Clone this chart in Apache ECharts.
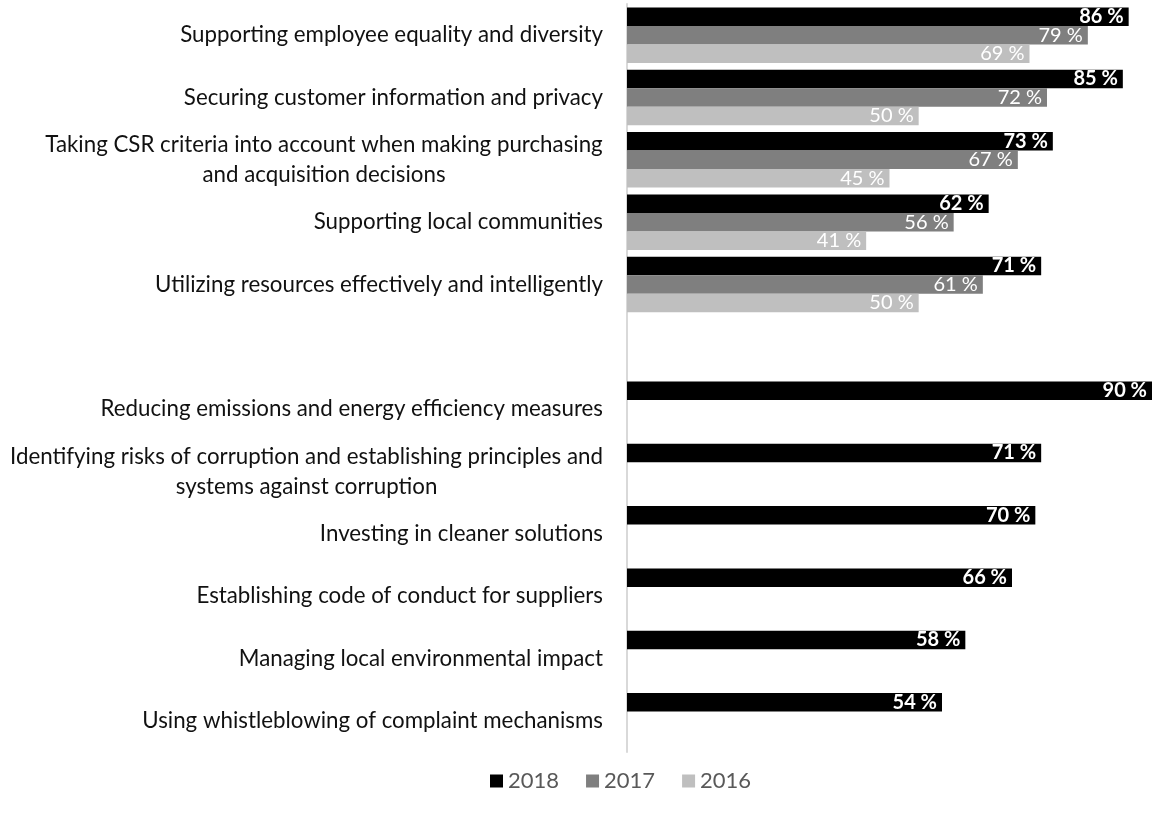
<!DOCTYPE html>
<html>
<head>
<meta charset="utf-8">
<script src="https://cdn.jsdelivr.net/npm/echarts@6/dist/echarts.min.js"></script>
<style>
  html, body { margin: 0; padding: 0; background: #fff; }
  #chart { width: 1152px; height: 814px; }
</style>
</head>
<body>
<div id="chart"></div>
<script>
  var categories = [
    'Supporting employee equality and diversity',
    'Securing customer information and privacy',
    'Taking CSR criteria into account when making purchasing\nand acquisition decisions',
    'Supporting local communities',
    'Utilizing resources effectively and intelligently',
    '',
    'Reducing emissions and energy efficiency measures',
    'Identifying risks of corruption and establishing principles and\nsystems against corruption',
    'Investing in cleaner solutions',
    'Establishing code of conduct for suppliers',
    'Managing local environmental impact',
    'Using whistleblowing of complaint mechanisms'
  ];
  var years = ['2018', '2017', '2016'];
  var v2018 = [86, 85, 73, 62, 71, null, 90, 71, 70, 66, 58, 54];
  var v2017 = [79, 72, 67, 56, 61, null, null, null, null, null, null, null];
  var v2016 = [69, 50, 45, 41, 50, null, null, null, null, null, null, null];
  var colors = ['#000000', '#7f7f7f', '#bfbfbf'];

  var labelFont = 'Lato';
  var labelSize = 22.3;

  // multi-line labels: centre each line inside the widest line
  var ctx = document.createElement('canvas').getContext('2d');
  ctx.font = labelSize + 'px ' + labelFont;
  var rich = {};
  categories.forEach(function (c, i) {
    if (c.indexOf('\n') >= 0) {
      var w = 0;
      c.split('\n').forEach(function (l) { w = Math.max(w, ctx.measureText(l).width); });
      rich['l' + i] = { width: Math.ceil(w), align: 'center', fontSize: labelSize, fontFamily: labelFont, color: '#111', lineHeight: 30 };
    }
  });

  function barSeries(name, data, idx, bold) {
    return {
      name: name,
      type: 'bar',
      data: data,
      barGap: '0%',
      barCategoryGap: '11%',
      itemStyle: { color: colors[idx] },
      label: {
        show: true,
        position: 'insideRight',
        distance: 5,
        color: '#fff',
        fontFamily: labelFont,
        fontSize: 20,
        fontWeight: bold ? 'bold' : 'normal',
        formatter: function (p) { return p.value + ' %'; }
      }
    };
  }

  var chart = echarts.init(document.getElementById('chart'));
  chart.setOption({
    animation: false,
    grid: { left: 627, right: 0, top: 4, bottom: 62 },
    legend: {
      data: years,
      top: 765,
      left: 485,
      icon: 'rect',
      itemWidth: 13,
      itemHeight: 13,
      itemGap: 27,
      textStyle: { color: '#595959', fontSize: 22, fontFamily: labelFont }
    },
    xAxis: {
      type: 'value',
      min: 0,
      max: 90,
      show: false
    },
    yAxis: {
      type: 'category',
      inverse: true,
      data: categories,
      axisLine: { show: true, lineStyle: { color: '#d9d9d9', width: 2 } },
      axisTick: { show: false },
      axisLabel: {
        margin: 24,
        color: '#111',
        fontSize: labelSize,
        fontFamily: labelFont,
        lineHeight: 30,
        rich: rich,
        formatter: function (value, i) {
          if (value.indexOf('\n') < 0) return value;
          return value.split('\n').map(function (l) { return '{l' + i + '|' + l + '}'; }).join('\n');
        }
      }
    },
    series: [
      barSeries('2018', v2018, 0, true),
      barSeries('2017', v2017, 1, false),
      barSeries('2016', v2016, 2, false)
    ]
  });
</script>
</body>
</html>
